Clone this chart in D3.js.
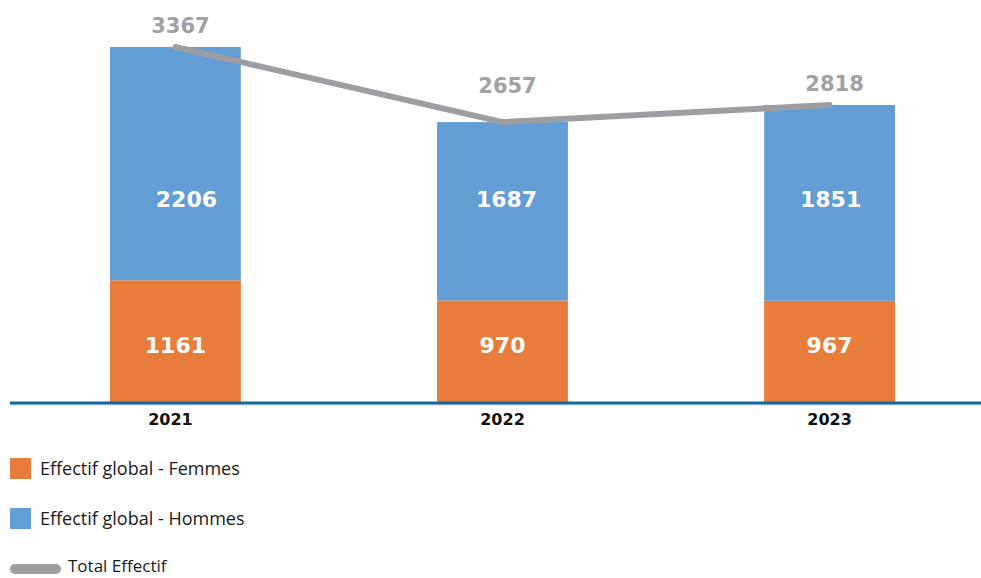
<!DOCTYPE html>
<html>
<head>
<meta charset="utf-8">
<script src="https://cdn.jsdelivr.net/npm/d3@7"></script>
<style>
  body { margin: 0; background: #fff; }
</style>
</head>
<body>
<div id="chart"></div>
<script>
// Data
const years = ['2021', '2022', '2023'];
const femmes = [1161, 970, 967];
const hommes = [2206, 1687, 1851];
const totals = [3367, 2657, 2818];

const width = 981, height = 578;
const baseline = 403;

const colors = { femmes: '#e87c3b', hommes: '#629ed3', total: '#9d9ea1', axis: '#1666a0' };

const svg = d3.select('#chart')
    .append('svg')
    .attr('width', width)
    .attr('height', height);

// Scales
const xScale = d3.scaleBand()
    .domain(years)
    .range([110, 895])
    .paddingInner(0.6)
    .paddingOuter(0);

const yScale = d3.scaleLinear()
    .domain([0, 3367])
    .range([baseline, 47]);

const stacked = years.map((y, i) => ({ year: y, femmes: femmes[i], hommes: hommes[i], total: totals[i] }));

// Femmes bars (bottom)
svg.selectAll('.bar-f')
    .data(stacked)
    .enter().append('rect')
    .attr('x', d => xScale(d.year))
    .attr('width', xScale.bandwidth())
    .attr('y', d => yScale(d.femmes))
    .attr('height', d => yScale(0) - yScale(d.femmes))
    .attr('fill', colors.femmes);

// Hommes bars (top)
svg.selectAll('.bar-h')
    .data(stacked)
    .enter().append('rect')
    .attr('x', d => xScale(d.year))
    .attr('width', xScale.bandwidth())
    .attr('y', d => yScale(d.femmes + d.hommes))
    .attr('height', d => yScale(d.femmes) - yScale(d.femmes + d.hommes))
    .attr('fill', colors.hommes);

// Value labels inside bars
const cx = d => xScale(d.year) + xScale.bandwidth() / 2;
const hommesLabelDx = [11, 4, 1];

svg.selectAll('.lab-h')
    .data(stacked)
    .enter().append('text')
    .attr('x', (d, i) => cx(d) + hommesLabelDx[i])
    .attr('y', 199)
    .attr('dy', '0.36em')
    .attr('text-anchor', 'middle')
    .style('font-family', 'DejaVu Sans')
    .style('font-weight', 'bold')
    .style('font-size', '22px')
    .attr('fill', '#fff')
    .text(d => d.hommes);

svg.selectAll('.lab-f')
    .data(stacked)
    .enter().append('text')
    .attr('x', cx)
    .attr('y', 345)
    .attr('dy', '0.36em')
    .attr('text-anchor', 'middle')
    .style('font-family', 'DejaVu Sans')
    .style('font-weight', 'bold')
    .style('font-size', '22px')
    .attr('fill', '#fff')
    .text(d => d.femmes);

// Axis baseline
svg.append('line')
    .attr('x1', 10)
    .attr('x2', width)
    .attr('y1', baseline + 2)
    .attr('y2', baseline + 2)
    .attr('stroke', '#c9d8e6')
    .attr('stroke-width', 1);
svg.append('line')
    .attr('x1', 10)
    .attr('x2', width)
    .attr('y1', baseline)
    .attr('y2', baseline)
    .attr('stroke', colors.axis)
    .attr('stroke-width', 3);

// X axis labels
const xAxis = d3.axisBottom(xScale).tickSize(0).tickPadding(10);
const gx = svg.append('g')
    .attr('transform', `translate(0,${baseline + 1})`)
    .call(xAxis);
gx.select('.domain').remove();
gx.selectAll('text')
    .attr('dx', (d, i) => i === 0 ? -5 : 0)
    .style('font-family', 'DejaVu Sans')
    .style('font-weight', 'bold')
    .style('font-size', '16px')
    .attr('fill', '#111');

// Total line
const line = d3.line()
    .x(d => cx(d))
    .y(d => yScale(d.total));

svg.append('path')
    .datum(stacked)
    .attr('d', line)
    .attr('fill', 'none')
    .attr('stroke', colors.total)
    .attr('stroke-width', 6)
    .attr('stroke-linecap', 'round')
    .attr('stroke-linejoin', 'round');

// Total labels
const totalLabelDy = [-22, -37, -22];
svg.selectAll('.lab-t')
    .data(stacked)
    .enter().append('text')
    .attr('x', d => cx(d) + 5)
    .attr('y', (d, i) => yScale(d.total) + totalLabelDy[i])
    .attr('dy', '0.36em')
    .attr('text-anchor', 'middle')
    .style('font-family', 'DejaVu Sans')
    .style('font-weight', 'bold')
    .style('font-size', '21px')
    .attr('fill', '#a0a1a3')
    .text(d => d.total);

// Legend
const legend = svg.append('g').attr('transform', 'translate(10,0)');
const legendItems = [
    { label: 'Effectif global - Femmes', color: colors.femmes, y: 468.5 },
    { label: 'Effectif global - Hommes', color: colors.hommes, y: 518.5 }
];
legendItems.forEach(item => {
    legend.append('rect')
        .attr('x', 0)
        .attr('y', item.y - 10.5)
        .attr('width', 21)
        .attr('height', 21)
        .attr('fill', item.color);
    legend.append('text')
        .attr('x', 30)
        .attr('y', item.y)
        .attr('dy', '0.35em')
        .style('font-family', 'Open Sans')
        .style('font-size', '18px')
        .attr('fill', '#1a1a1a')
        .text(item.label);
});
legend.append('line')
    .attr('x1', 5)
    .attr('x2', 46)
    .attr('y1', 569)
    .attr('y2', 569)
    .attr('stroke', colors.total)
    .attr('stroke-width', 10)
    .attr('stroke-linecap', 'round');
legend.append('text')
    .attr('x', 58)
    .attr('y', 572)
    .style('font-family', 'Open Sans')
    .style('font-size', '17px')
    .attr('fill', '#1a1a1a')
    .text('Total Effectif');
</script>
</body>
</html>
